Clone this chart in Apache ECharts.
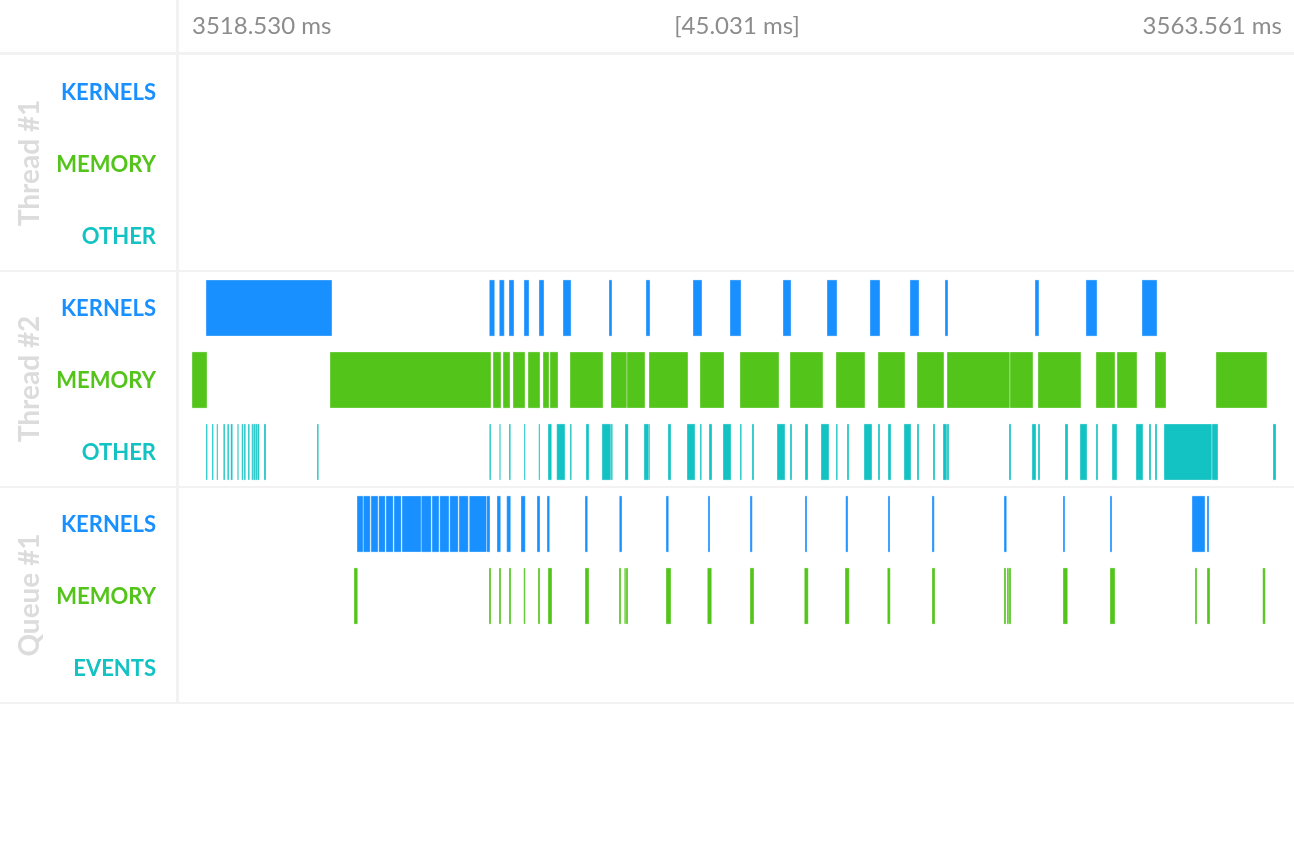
<!DOCTYPE html>
<html>
<head>
<meta charset="utf-8">
<title>Timeline</title>
<script src="https://cdn.jsdelivr.net/npm/echarts@6/dist/echarts.min.js"></script>
<style>
  html, body { margin: 0; padding: 0; background: #fff; }
  #main { width: 1294px; height: 860px; }
</style>
</head>
<body>
<div id="main"></div>
<script>
// 时间范围（ms）
const startTime = 3518.530
const duration = 45.031

// 分组与行
const groupNames = ['Thread #1', 'Thread #2', 'Queue #1']
const rowNames = ['KERNELS', 'MEMORY', 'OTHER', 'KERNELS', 'MEMORY', 'OTHER', 'KERNELS', 'MEMORY', 'EVENTS']
const rowKinds = ['k', 'm', 'o', 'k', 'm', 'o', 'k', 'm', 'o']

// 每行的区间 [开始, 结束]，相对 startTime 的毫秒数
const thread1Kernels = []
const thread1Memory = []
const thread1Other = []

const thread2Kernels = [
  [1.051, 6.144], [12.503, 12.721], [12.907, 13.109], [13.299, 13.501], [13.905, 14.107],
  [14.512, 14.714], [15.482, 15.805], [17.341, 17.462], [18.837, 18.998], [20.736, 21.100],
  [22.232, 22.677], [24.374, 24.698], [26.153, 26.557], [27.891, 28.295], [29.508, 29.872],
  [30.923, 31.044], [34.561, 34.722], [36.622, 37.067], [38.886, 39.492]
]

const thread2Memory = [
  [0.485, 1.091], [6.063, 12.571], [12.652, 12.975], [13.056, 13.339], [13.461, 13.946],
  [14.067, 14.552], [14.673, 14.916], [14.956, 15.280], [15.765, 17.099], [17.422, 18.069],
  [18.069, 18.796], [18.958, 20.534], [21.019, 21.990], [22.636, 24.213], [24.657, 25.991],
  [26.517, 27.689], [28.215, 29.306], [29.791, 30.882], [31.004, 33.550], [33.550, 34.480],
  [34.682, 36.420], [37.027, 37.795], [37.875, 38.684], [39.411, 39.856], [41.877, 43.939]
]

const thread2Other = [
  [1.051, 1.112], [1.294, 1.354], [1.483, 1.536], [1.750, 1.819], [1.912, 1.981],
  [2.049, 2.130], [2.316, 2.373], [2.494, 2.559], [2.587, 2.656], [2.749, 2.817],
  [2.898, 2.963], [2.963, 3.044], [3.044, 3.125], [3.125, 3.205], [3.395, 3.476],
  [5.538, 5.607], [12.503, 12.571], [12.907, 12.963], [13.299, 13.368], [13.905, 13.958],
  [14.499, 14.552], [14.875, 15.025], [15.227, 15.562], [15.765, 15.833], [16.411, 16.533],
  [17.058, 17.422], [17.422, 17.491], [17.988, 18.121], [18.756, 18.958], [18.958, 18.998],
  [19.726, 19.847], [20.494, 20.817], [21.019, 21.088], [21.383, 21.505], [21.949, 22.273],
  [22.636, 22.705], [23.121, 23.202], [24.132, 24.455], [24.657, 24.738], [25.264, 25.385],
  [25.910, 26.234], [26.517, 26.585], [26.961, 27.042], [27.649, 27.972], [28.215, 28.295],
  [28.619, 28.740], [29.266, 29.548], [29.791, 29.872], [30.438, 30.519], [30.842, 31.004],
  [31.004, 31.085], [33.510, 33.591], [34.440, 34.601], [34.682, 34.763], [35.773, 35.895],
  [36.380, 36.663], [37.027, 37.107], [37.673, 37.875], [38.643, 38.926], [39.169, 39.250],
  [39.411, 39.492], [39.775, 41.716], [41.716, 41.958], [44.181, 44.303]
]

const queue1Kernels = [
  [7.155, 7.409], [7.409, 7.692], [7.721, 8.004], [8.032, 8.299], [8.327, 8.622],
  [8.650, 8.945], [8.974, 9.754], [9.754, 10.158], [10.186, 10.469], [10.498, 10.874],
  [10.902, 11.249], [11.278, 11.654], [11.694, 12.397], [12.397, 12.531], [12.814, 12.963],
  [13.206, 13.368], [13.784, 13.958], [14.431, 14.552], [14.835, 14.944], [16.371, 16.480],
  [17.757, 17.867], [19.645, 19.754], [21.343, 21.424], [23.041, 23.134], [25.264, 25.345],
  [26.909, 27.002], [28.619, 28.700], [30.397, 30.490], [33.308, 33.417], [35.693, 35.773],
  [37.592, 37.673], [40.907, 41.433], [41.514, 41.595]
]

const queue1Memory = [
  [7.033, 7.183], [12.490, 12.571], [12.895, 12.975], [13.299, 13.380], [13.893, 13.958],
  [14.471, 14.552], [14.875, 15.037], [16.371, 16.533], [17.745, 17.826], [17.959, 18.028],
  [18.028, 18.109], [19.645, 19.847], [21.315, 21.493], [23.041, 23.202], [25.236, 25.397],
  [26.881, 27.054], [28.591, 28.712], [30.397, 30.519], [33.308, 33.389], [33.429, 33.510],
  [33.510, 33.591], [35.693, 35.883], [37.592, 37.795], [41.028, 41.109], [41.514, 41.635],
  [43.765, 43.871]
]

const queue1Events = []

const rowData = [
  thread1Kernels, thread1Memory, thread1Other,
  thread2Kernels, thread2Memory, thread2Other,
  queue1Kernels, queue1Memory, queue1Events
]

// 颜色
const kindColors = { k: '#1890ff', m: '#52c41a', o: '#13c2c2' }
const lineColor = '#f2f2f2'

// 布局
const W = 1294
const gridLeft = 180
const gridTop = 55
const rowHeight = 72
const gridBottomY = gridTop + rowHeight * rowNames.length

const myChart = echarts.init(document.querySelector('#main'))

// 区间矩形
function renderItem(params, api) {
  const row = api.value(2)
  const p1 = api.coord([api.value(0), row])
  const p2 = api.coord([api.value(1), row])
  const h = api.size([0, 1])[1] * 0.78
  return {
    type: 'rect',
    shape: {
      x: p1[0],
      y: p1[1] - h / 2 + 1,
      width: Math.max(p2[0] - p1[0], 1),
      height: h
    },
    style: {
      fill: kindColors[rowKinds[row]],
      stroke: 'rgba(255,255,255,0.35)',
      lineWidth: 1
    }
  }
}

// 图形：分隔线、表头、分组名
const graphics = []
graphics.push({
  type: 'line', shape: { x1: 0, y1: 53.5, x2: W, y2: 53.5 },
  style: { stroke: lineColor, lineWidth: 3 }, silent: true
})
graphics.push({
  type: 'line', shape: { x1: 177.5, y1: 0, x2: 177.5, y2: gridBottomY },
  style: { stroke: lineColor, lineWidth: 3 }, silent: true
})
groupNames.forEach((name, i) => {
  const yEnd = gridTop + rowHeight * 3 * (i + 1)
  graphics.push({
    type: 'line', shape: { x1: 0, y1: yEnd, x2: W, y2: yEnd },
    style: { stroke: lineColor, lineWidth: 2 }, silent: true
  })
  graphics.push({
    type: 'text',
    x: 30,
    y: gridTop + rowHeight * 3 * i + rowHeight * 1.5,
    rotation: Math.PI / 2,
    style: {
      text: name,
      align: 'center',
      verticalAlign: 'middle',
      fill: '#dcdcdc',
      fontSize: 28,
      fontWeight: 'bold',
      fontFamily: 'Lato'
    },
    silent: true
  })
})
const headerStyle = { fill: '#8c8c8c', fontSize: 24, fontFamily: 'Lato', verticalAlign: 'middle' }
graphics.push({
  type: 'text', x: 192, y: 26,
  style: Object.assign({ text: startTime.toFixed(3) + ' ms', align: 'left' }, headerStyle)
})
graphics.push({
  type: 'text', x: (gridLeft + W) / 2, y: 26,
  style: Object.assign({ text: '[' + duration.toFixed(3) + ' ms]', align: 'center' }, headerStyle)
})
graphics.push({
  type: 'text', x: W - 12, y: 26,
  style: Object.assign({ text: (startTime + duration).toFixed(3) + ' ms', align: 'right' }, headerStyle)
})

const labelRich = kind => ({
  color: kindColors[kind],
  fontSize: 22,
  fontWeight: 'bold',
  fontFamily: 'Lato',
  padding: [4, 0, 0, 0]
})

const option = {
  animation: false,
  grid: {
    left: gridLeft,
    right: 0,
    top: gridTop,
    height: rowHeight * rowNames.length
  },
  xAxis: {
    type: 'value',
    min: 0,
    max: duration,
    show: false
  },
  yAxis: {
    type: 'category',
    data: rowNames,
    inverse: true,
    axisLine: { show: false },
    axisTick: { show: false },
    splitLine: { show: false },
    axisLabel: {
      margin: 24,
      formatter: (value, index) => `{${rowKinds[index]}|${value}}`,
      rich: {
        k: labelRich('k'),
        m: labelRich('m'),
        o: labelRich('o')
      }
    }
  },
  graphic: graphics,
  series: rowData.map((list, row) => ({
    type: 'custom',
    name: rowNames[row],
    renderItem: renderItem,
    encode: { x: [0, 1], y: 2 },
    data: list.map(item => [item[0], item[1], row])
  }))
}
myChart.setOption(option)
</script>
</body>
</html>
